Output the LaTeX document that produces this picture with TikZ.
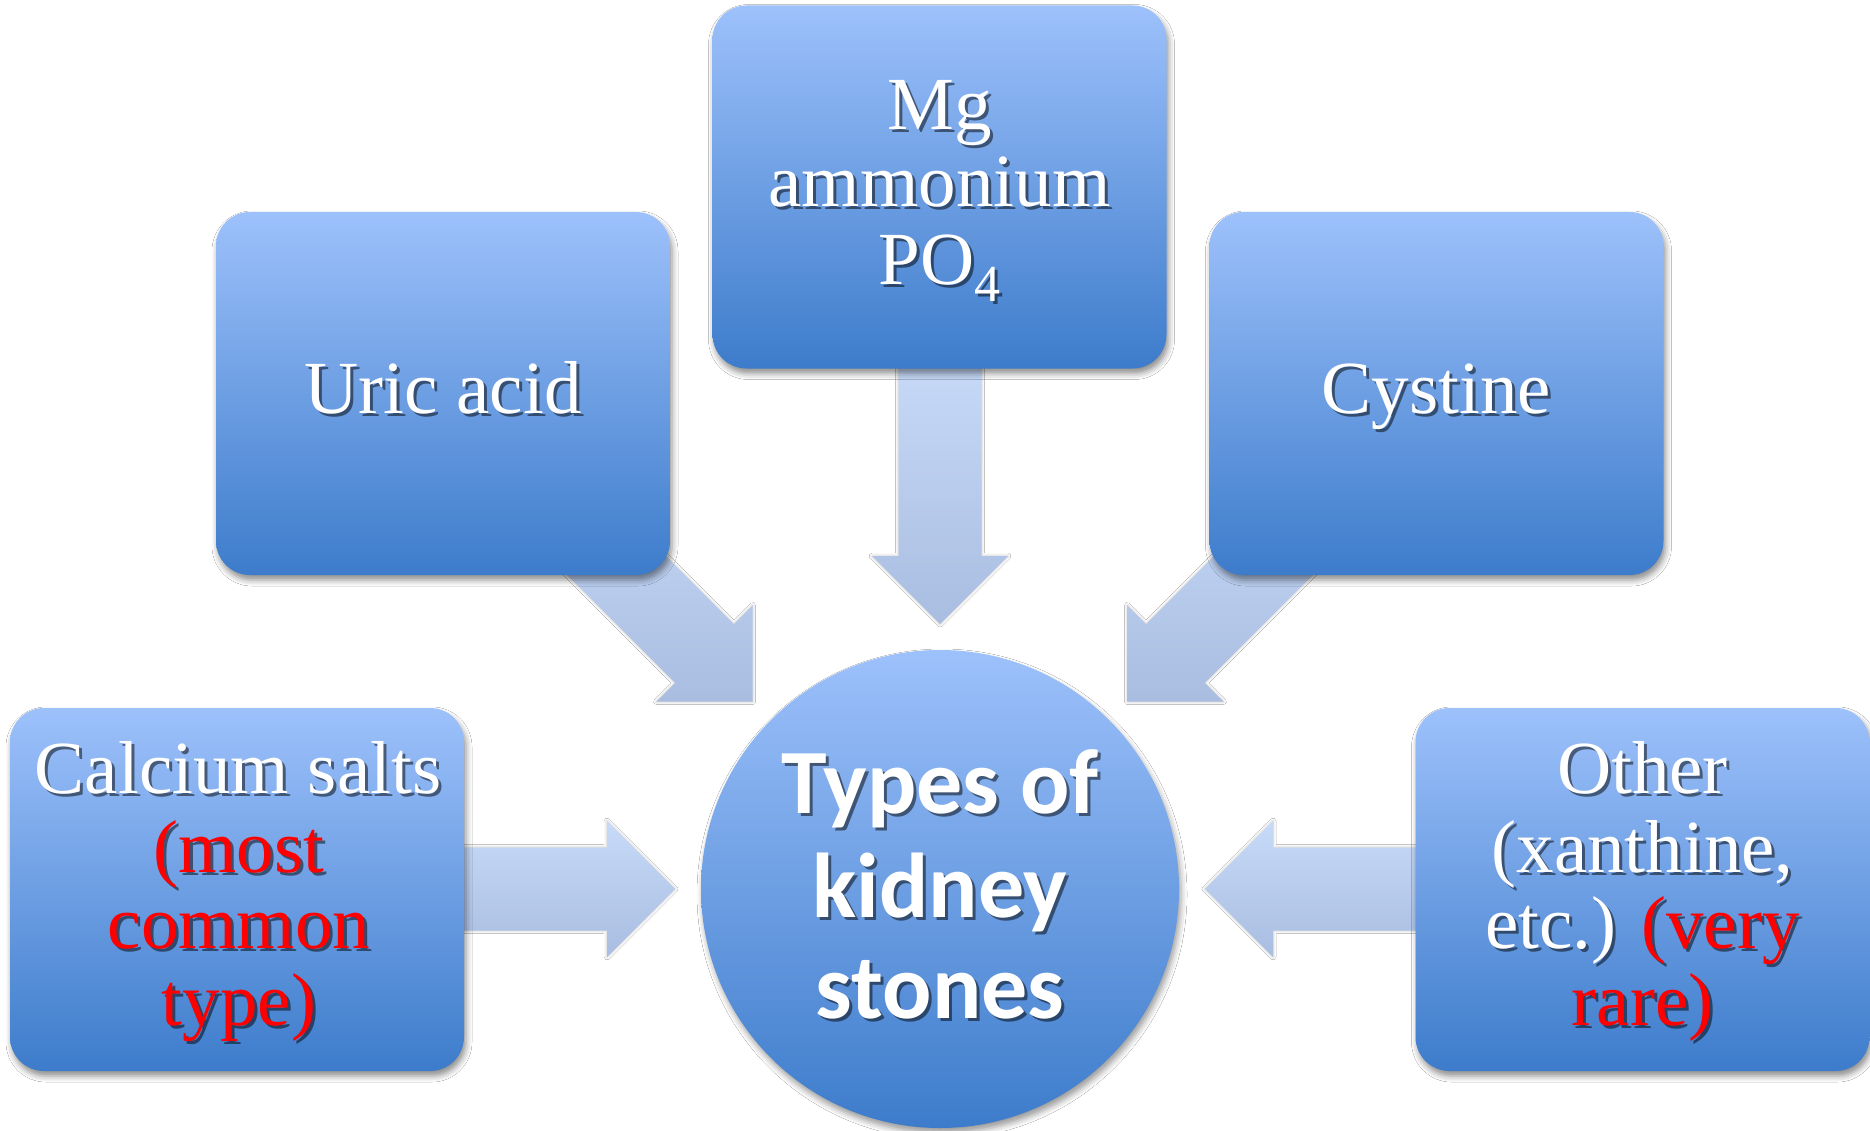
\documentclass[tikz,border=0pt]{standalone}
\usepackage{fontspec}
\newfontfamily\carlito{Carlito}
\newfontfamily\serfont{Liberation Serif}
\usetikzlibrary{shadows.blur,calc}
\definecolor{boxtop}{HTML}{9DC1FB}
\definecolor{boxbot}{HTML}{3D7CCB}
\definecolor{arrtop}{HTML}{C7DAF8}
\definecolor{arrbot}{HTML}{A9BDE1}
\def\hlc{red}
\newcommand\hl[1]{\textcolor{\hlc}{#1}}
\tikzset{
  stonebox/.style={rounded corners=34pt, minimum width=454pt, minimum height=363pt,
    inner sep=0pt, top color=boxtop, bottom color=boxbot, draw=none,
    blur shadow={shadow xshift=2pt, shadow yshift=-5pt, shadow blur radius=6pt, shadow opacity=45}},
  hubcircle/.style={circle, minimum size=478pt, inner sep=0pt, top color=boxtop,
    bottom color=boxbot, draw=none,
    blur shadow={shadow xshift=2pt, shadow yshift=-5pt, shadow blur radius=6pt, shadow opacity=40}},
  fatarrowshape/.style={top color=arrtop, bottom color=arrbot, draw=none,
    blur shadow={shadow xshift=0pt, shadow yshift=0pt, shadow blur radius=3pt, shadow opacity=25}},
  sertext/.style={font=\serfont\fontsize{75}{80}\selectfont, anchor=base, inner sep=0pt},
  hubtext/.style={font=\carlito\bfseries\fontsize{92}{103}\selectfont, anchor=base, inner sep=0pt},
  txtshadow/.style={text=black, text opacity=0.5, xshift=3pt, yshift=-3pt,
    execute at begin node={\def\hlc{black}}},
  txtmain/.style={text=white},
}
% #1 name, #2 style, #3 box node, #4 offset, #5 text
\newcommand\tline[5]{%
  \node[#2,txtshadow] (#1-s) at ([shift={(#4)}]#3.center) {#5};
  \node[#2,txtmain] (#1) at ([shift={(#4)}]#3.center) {#5};}
% #1 tip coordinate, #2 angle, #3 shaft length
\newcommand\fatarrow[3]{%
  \begin{scope}[shift={(#1)}, rotate=#2]
    \path[fatarrowshape] (0,0) -- (-68,68) -- (-68,41.5) -- (-#3,41.5) -- (-#3,-41.5)
      -- (-68,-41.5) -- (-68,-68) -- cycle;
  \end{scope}}
\begin{document}
\begin{tikzpicture}[x=1pt,y=-1pt]
  \fill[white] (0,0) rectangle (1870,1131);
  \useasboundingbox (0,0) rectangle (1870,1131);

  % hub
  \node[hubcircle] (hub) at (940,889) {};
  \tline{hub1}{hubtext}{hub}{0,-76}{Types of}
  \tline{hub2}{hubtext}{hub}{0,28}{kidney}
  \tline{hub3}{hubtext}{hub}{0,129}{stones}

  % tips of the arrows
  \coordinate (tipU) at ($(hub.center)+(-187.4,-187.4)$);
  \coordinate (tipM) at ($(hub.center)+(0,-265)$);
  \coordinate (tipC) at ($(hub.center)+(187.4,-187.4)$);
  \coordinate (tipL) at ($(hub.center)+(-265,0)$);
  \coordinate (tipR) at ($(hub.center)+(265,0)$);

  \fatarrow{tipU}{-45}{300}
  \fatarrow{tipM}{-90}{270}
  \fatarrow{tipC}{-135}{300}
  \fatarrow{tipL}{0}{230}
  \fatarrow{tipR}{180}{230}

  % boxes
  \node[stonebox] (uric) at (443,393.5) {};
  \node[stonebox] (mg) at (939.5,187) {};
  \node[stonebox] (cyst) at (1436.5,393.5) {};
  \node[stonebox] (calc) at (237,889.5) {};
  \node[stonebox] (other) at (1642.5,889.5) {};

  \tline{uric1}{sertext}{uric}{0,19.5}{Uric acid}
  \tline{cyst1}{sertext}{cyst}{0,19.5}{Cystine}

  \tline{mg1}{sertext}{mg}{0,-57}{Mg}
  \tline{mg2}{sertext}{mg}{0,20}{ammonium}
  \tline{mg3}{sertext}{mg}{0,98}{PO\raisebox{-17pt}{\fontsize{52}{52}\selectfont 4}}

  \tline{calc1}{sertext}{calc}{1,-96.5}{Calcium salts}
  \tline{calc2}{sertext}{calc}{2,-17.5}{\hl{(most}}
  \tline{calc3}{sertext}{calc}{2,58.5}{\hl{common}}
  \tline{calc4}{sertext}{calc}{2,135.5}{\hl{type)}}

  \tline{oth1}{sertext}{other}{0,-96.5}{Other}
  \tline{oth2}{sertext}{other}{0,-17.5}{(xanthine,}
  \tline{oth3}{sertext}{other}{0,58.5}{etc.) \hl{(very}}
  \tline{oth4}{sertext}{other}{0,135.5}{\hl{rare)}}
\end{tikzpicture}
\end{document}
